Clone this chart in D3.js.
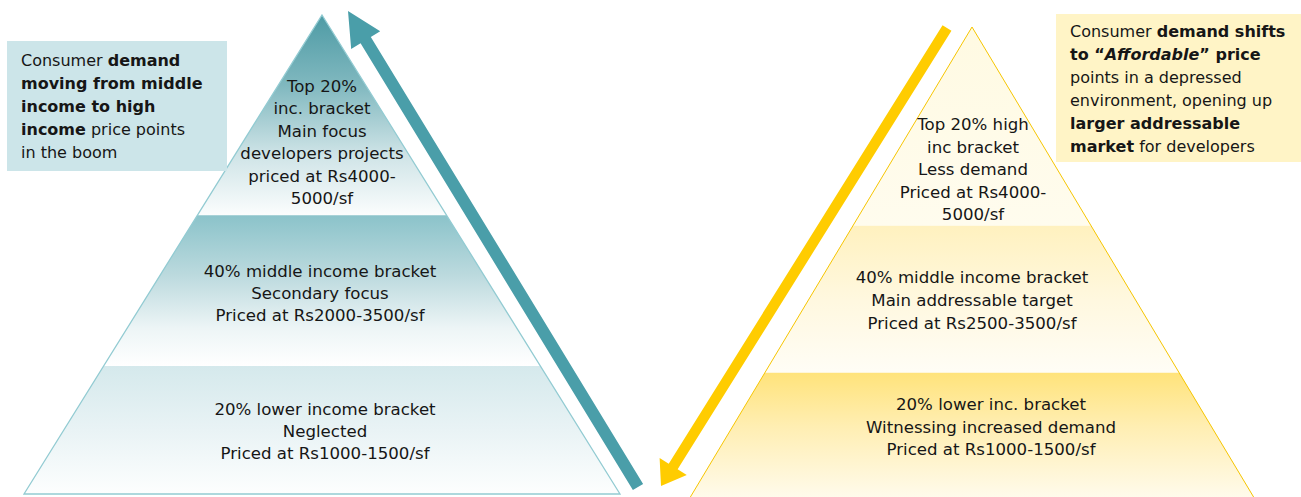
<!DOCTYPE html>
<html>
<head>
<meta charset="utf-8">
<script src="https://cdn.jsdelivr.net/npm/d3@7"></script>
<style>
  html, body { margin: 0; padding: 0; background: #ffffff; }
  svg { display: block; }
  text { font-family: "DejaVu Sans", Verdana, sans-serif; fill: #161616; }
</style>
</head>
<body>
<svg id="chart" width="1301" height="497"></svg>
<script>
// ---- Tier labels (top, middle, bottom) ----
const boomTiers = [
  ["Top 20%", "inc. bracket", "Main focus", "developers projects", "priced at Rs4000-", "5000/sf"],
  ["40% middle income bracket", "Secondary focus", "Priced at Rs2000-3500/sf"],
  ["20% lower income bracket", "Neglected", "Priced at Rs1000-1500/sf"]
];
const slumpTiers = [
  ["Top 20% high", "inc bracket", "Less demand", "Priced at Rs4000-", "5000/sf"],
  ["40% middle income bracket", "Main addressable target", "Priced at Rs2500-3500/sf"],
  ["20% lower inc. bracket", "Witnessing increased demand", "Priced at Rs1000-1500/sf"]
];

// Band boundaries as a share of pyramid height (apex = 0, base = 1)
const boomBreaks = [0, 0.418, 0.733, 1];
const slumpBreaks = [0, 0.415, 0.722, 1];

// Callout notes: each line is a list of [text, weight, style] runs
const boomNote = [
  [["Consumer ", "normal"], ["demand", "bold"]],
  [["moving from middle", "bold"]],
  [["income to high", "bold"]],
  [["income", "bold"], [" price points", "normal"]],
  [["in the boom", "normal"]]
];
const slumpNote = [
  [["Consumer ", "normal"], ["demand shifts", "bold"]],
  [["to \u201C", "bold"], ["Affordable", "bold", "italic"], ["\u201D price", "bold"]],
  [["points in a depressed", "normal"]],
  [["environment, opening up", "normal"]],
  [["larger addressable", "bold"]],
  [["market", "bold"], [" for developers", "normal"]]
];

// ---- Drawing ----
const svg = d3.select("#chart");
const defs = svg.append("defs");

function gradient(id, stops) {
  const g = defs.append("linearGradient").attr("id", id)
    .attr("x1", 0).attr("y1", 0).attr("x2", 0).attr("y2", 1);
  stops.forEach(([o, c]) => g.append("stop").attr("offset", o).attr("stop-color", c));
  return `url(#${id})`;
}

const boomFills = [
  gradient("b0", [[0, "#4e9ba5"], [0.35, "#80b8bf"], [0.7, "#cfe4e7"], [1, "#fbfdfd"]]),
  gradient("b1", [[0, "#8bc3ca"], [0.4, "#bcdade"], [0.75, "#edf5f6"], [1, "#ffffff"]]),
  gradient("b2", [[0, "#d5e9ec"], [0.5, "#e9f3f5"], [1, "#fdfefe"]])
];
const slumpFills = [
  gradient("s0", [[0, "#fffae2"], [1, "#fffcee"]]),
  gradient("s1", [[0, "#fff1bf"], [0.5, "#fff8df"], [1, "#fffdf6"]]),
  gradient("s2", [[0, "#ffe37b"], [0.4, "#ffeeb2"], [1, "#fffcf2"]])
];

function pyramid(cfg) {
  const g = svg.append("g");
  const y = d3.scaleLinear().domain([0, 1]).range([cfg.apexY, cfg.baseY]);
  const half = d3.scaleLinear().domain([0, 1]).range([0, cfg.halfBase]);
  const pt = (t, side) => [cfg.cx + side * half(t), y(t)];
  const line = d3.line();

  d3.pairs(cfg.breaks).forEach(([t0, t1], i) => {
    const pts = t0 === 0
      ? [pt(0, 0), pt(t1, 1), pt(t1, -1)]
      : [pt(t0, -1), pt(t0, 1), pt(t1, 1), pt(t1, -1)];
    g.append("path").attr("d", line(pts) + "Z").attr("fill", cfg.fills[i]);
  });

  g.append("path")
    .attr("d", line([pt(0, 0), pt(1, 1), pt(1, -1)]) + "Z")
    .attr("fill", "none")
    .attr("stroke", cfg.stroke)
    .attr("stroke-width", cfg.strokeWidth)
    .attr("stroke-linejoin", "miter");

  cfg.labels.forEach((lines, i) => {
    const t = g.append("text")
      .attr("text-anchor", "middle")
      .style("font-size", "16.6px");
    lines.forEach((s, k) => {
      t.append("tspan")
        .attr("x", cfg.labelX[i])
        .attr("y", cfg.labelY[i] + k * cfg.lineGap[i])
        .text(s);
    });
  });
}

pyramid({
  cx: 322, apexY: 15, baseY: 494, halfBase: 298,
  breaks: boomBreaks, fills: boomFills, labels: boomTiers,
  stroke: "#92cbd2", strokeWidth: 1.3,
  labelX: [322, 320, 325], labelY: [92, 277, 415], lineGap: [22.4, 22.2, 22.2]
});

pyramid({
  cx: 972, apexY: 27, baseY: 506, halfBase: 287,
  breaks: slumpBreaks, fills: slumpFills, labels: slumpTiers,
  stroke: "#f6c500", strokeWidth: 1,
  labelX: [973, 972, 991], labelY: [130, 283, 410], lineGap: [22.5, 23, 22.5]
});

// Block arrows showing the direction of demand
function arrow(tail, tip, shaftW, headL, headW, color) {
  const dx = tip[0] - tail[0], dy = tip[1] - tail[1];
  const len = Math.hypot(dx, dy);
  const u = [dx / len, dy / len], n = [-u[1], u[0]];
  const at = (p, a, b) => [p[0] + u[0] * a + n[0] * b, p[1] + u[1] * a + n[1] * b];
  const pts = [
    at(tail, 0, -shaftW / 2), at(tip, -headL, -shaftW / 2), at(tip, -headL, -headW),
    tip, at(tip, -headL, headW), at(tip, -headL, shaftW / 2), at(tail, 0, shaftW / 2)
  ];
  svg.append("path").attr("d", d3.line()(pts) + "Z").attr("fill", color);
}
arrow([638, 487], [348, 11], 12, 34, 17, "#4a9ea9");
arrow([947, 28], [661, 486], 10.5, 23, 16, "#ffcc00");

// Callout boxes
function callout(x, y, w, h, fill, tx, ty, gap, lines) {
  svg.append("rect").attr("x", x).attr("y", y).attr("width", w).attr("height", h).attr("fill", fill);
  const t = svg.append("text").style("font-size", "16px");
  lines.forEach((runs, k) => {
    runs.forEach(([s, weight, style], j) => {
      const sp = t.append("tspan").text(s)
        .style("font-weight", weight)
        .style("font-style", style || "normal");
      if (j === 0) sp.attr("x", tx).attr("y", ty + k * gap);
    });
  });
}
callout(7, 41, 220, 130, "#cce5e9", 21, 66, 23, boomNote);
callout(1056, 14, 245, 148, "#fff4c6", 1070, 37, 23, slumpNote);
</script>
</body>
</html>
